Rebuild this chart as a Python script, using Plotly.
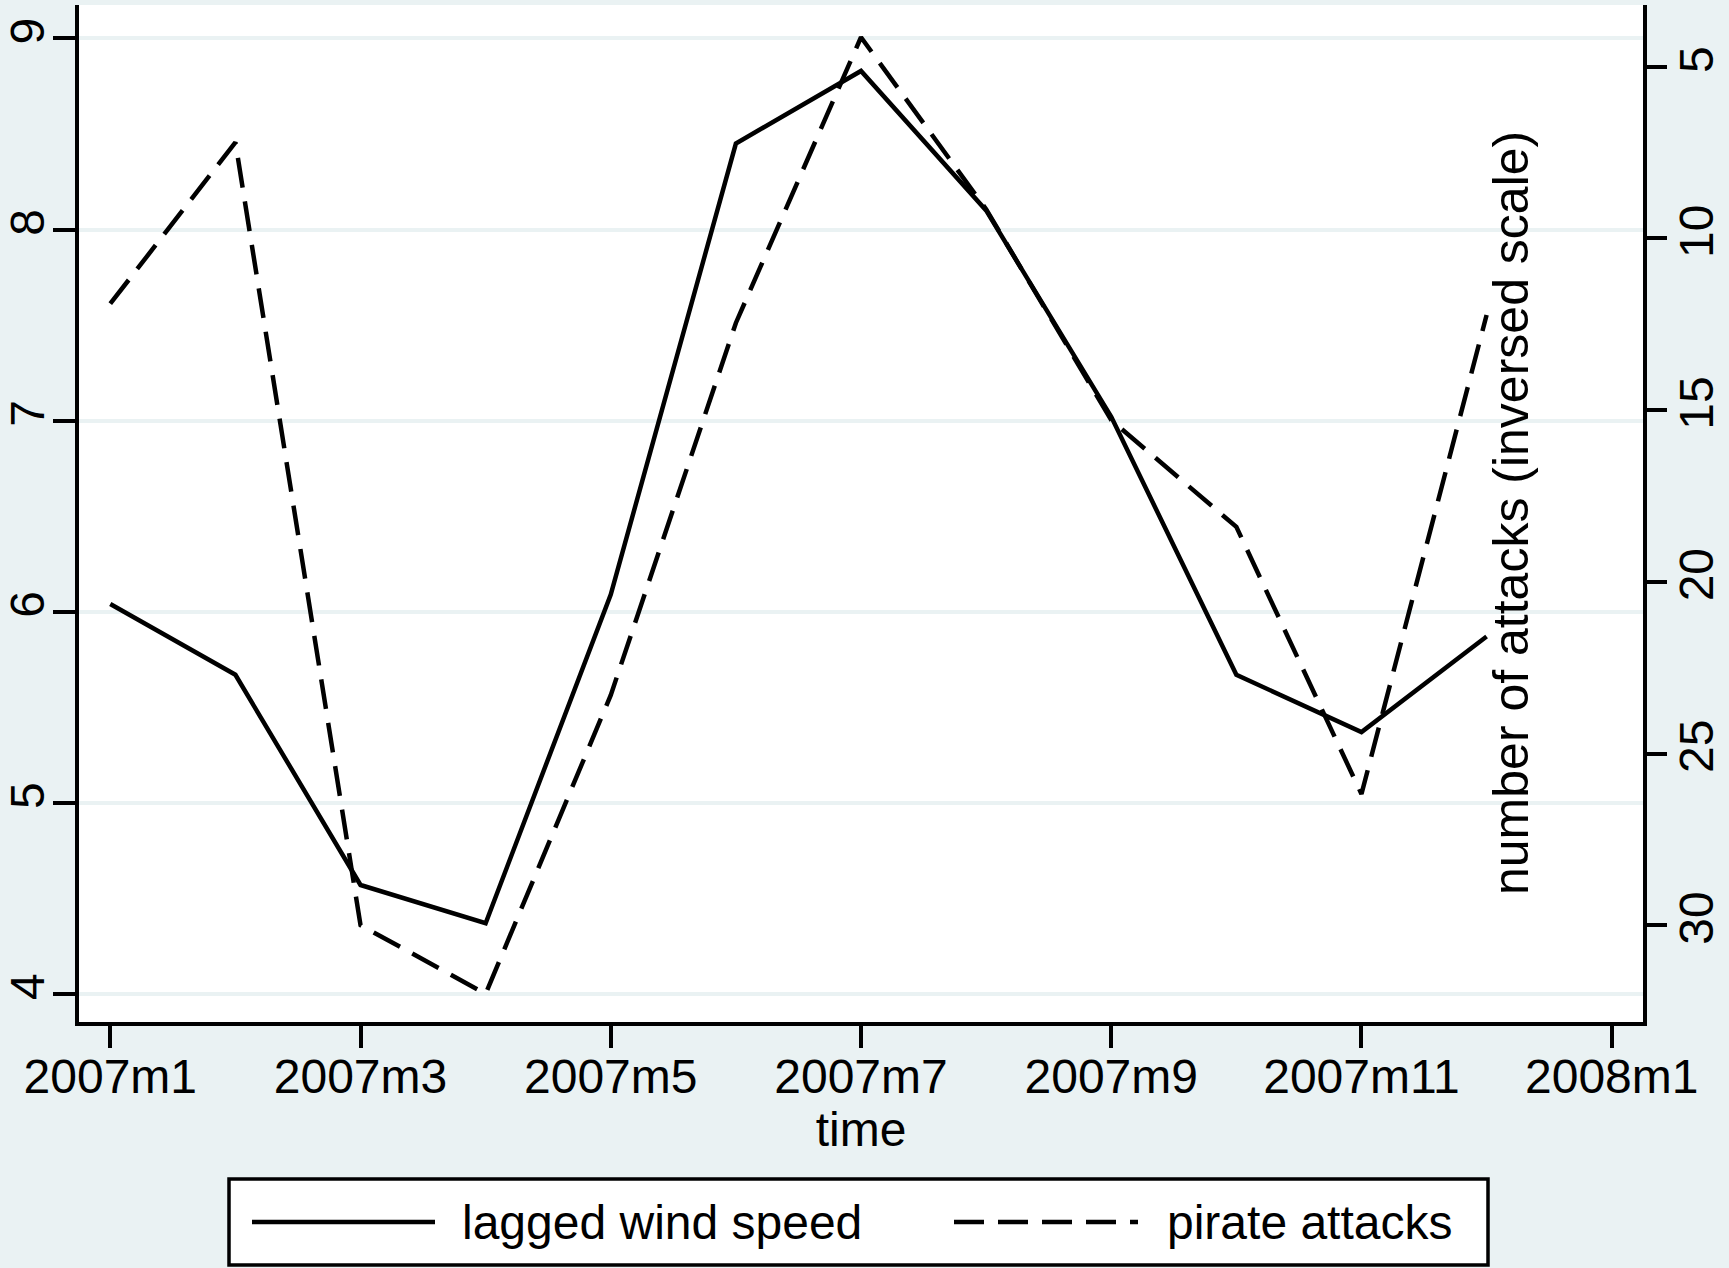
import plotly.graph_objects as go

# ---------------- data ----------------
months = ["2007m1", "2007m2", "2007m3", "2007m4", "2007m5", "2007m6",
          "2007m7", "2007m8", "2007m9", "2007m10", "2007m11", "2007m12"]
wind_speed = [6.04, 5.67, 4.57, 4.37, 6.09, 8.45, 8.83, 8.10, 7.02, 5.67, 5.37, 5.87]
pirate_attacks = [11.9, 7.2, 30.0, 32.0, 23.3, 12.46, 4.14, 9.15, 15.29, 18.40, 26.18, 12.23]
x_tick_labels = ["2007m1", "2007m3", "2007m5", "2007m7", "2007m9", "2007m11", "2008m1"]
left_ticks = [4, 5, 6, 7, 8, 9]
right_ticks = [5, 10, 15, 20, 25, 30]
series_names = ["lagged wind speed", "pirate attacks"]

# ---------------- layout constants ----------------
W, H = 1729, 1268
L, R, T, B = 79, 1643, 5, 1022          # plot area in pixels
FONT = "Liberation Sans, Arial, sans-serif"
BG = "#EAF2F3"
FS = 48

x_index = list(range(len(months)))
x_tick_pos = [2 * i for i in range(len(x_tick_labels))]


def px(xp):
    return (xp - L) / (R - L)


def py(yp):
    return (B - yp) / (B - T)


fig = go.Figure()
fig.add_trace(go.Scatter(
    x=x_index, y=wind_speed, name=series_names[0], mode="lines",
    line=dict(color="black", width=4.5), yaxis="y", showlegend=False))
fig.add_trace(go.Scatter(
    x=x_index, y=pirate_attacks, name=series_names[1], mode="lines",
    line=dict(color="black", width=4.5, dash="30px,14px"), yaxis="y2", showlegend=False))

axis_common = dict(
    showline=True, linecolor="black", linewidth=3.5,
    ticks="outside", tickcolor="black", tickwidth=3.5,
    tickfont=dict(family=FONT, size=FS, color="black"),
    zeroline=False,
)

fig.update_layout(
    width=W, height=H,
    margin=dict(l=L, r=W - R, t=T, b=H - B, autoexpand=False),
    paper_bgcolor=BG, plot_bgcolor="white",
    font=dict(family=FONT, size=FS, color="black"),
    xaxis=dict(
        range=[-0.25, 12.25], tickmode="array", tickvals=x_tick_pos, ticktext=x_tick_labels,
        ticklen=22, showgrid=False, ticklabelstandoff=-12,
        title=dict(text="time", font=dict(family=FONT, size=FS), standoff=0),
        **axis_common),
    yaxis=dict(
        range=[3.853, 9.175], tickmode="array", tickvals=left_ticks,
        ticklen=22, tickangle=-90, showgrid=True, gridcolor=BG, gridwidth=4,
        ticklabelstandoff=-10,
        **axis_common),
    yaxis2=dict(
        overlaying="y", side="right", range=[32.82, 3.20], tickmode="array",
        tickvals=right_ticks, ticklen=20, tickangle=-90, showgrid=False,
        ticklabelstandoff=-11,
        **axis_common),
)

# y2 title drawn inside the plot area, as in the original
fig.add_annotation(
    text="number of attacks (inversed scale)", xref="paper", yref="paper",
    x=px(1511), y=py(513), textangle=-90, showarrow=False,
    font=dict(family=FONT, size=50, color="black"), xanchor="center", yanchor="middle")

# ---------------- legend (boxed, below the plot) ----------------
fig.add_shape(type="rect", xref="paper", yref="paper",
              x0=px(229), x1=px(1488), y0=py(1179), y1=py(1265),
              line=dict(color="black", width=3.5), fillcolor="white", layer="above")
ly = py(1222)
fig.add_shape(type="line", xref="paper", yref="paper", x0=px(252), x1=px(435), y0=ly, y1=ly,
              line=dict(color="black", width=4.5))
fig.add_shape(type="line", xref="paper", yref="paper", x0=px(954), x1=px(1138), y0=ly, y1=ly,
              line=dict(color="black", width=4.5, dash="30px,14px"))
fig.add_annotation(text=series_names[0], xref="paper", yref="paper", x=px(460), y=ly,
                   xanchor="left", yanchor="middle", showarrow=False,
                   font=dict(family=FONT, size=FS, color="black"))
fig.add_annotation(text=series_names[1], xref="paper", yref="paper", x=px(1165), y=ly,
                   xanchor="left", yanchor="middle", showarrow=False,
                   font=dict(family=FONT, size=FS, color="black"))

fig.write_html("out.html", config={"displayModeBar": False},
               post_script="document.body.style.margin='0px';document.body.style.overflow='hidden';")
